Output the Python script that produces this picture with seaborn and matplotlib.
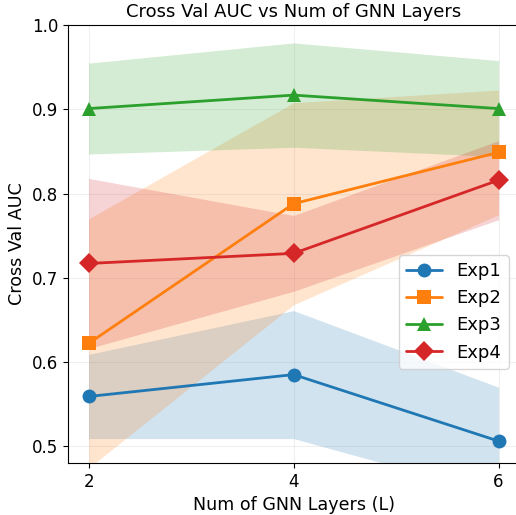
import matplotlib
matplotlib.use("Agg")
import matplotlib.pyplot as plt
import seaborn as sns
import numpy as np
import pandas as pd

# cross validation AUC, mean and std over folds
layers = [2, 4, 6]
experiments = ["Exp1", "Exp2", "Exp3", "Exp4"]
exp1_mean = [0.559, 0.585, 0.506]
exp1_std = [0.050, 0.076, 0.064]
exp2_mean = [0.622, 0.788, 0.849]
exp2_std = [0.148, 0.120, 0.074]
exp3_mean = [0.901, 0.917, 0.901]
exp3_std = [0.054, 0.062, 0.057]
exp4_mean = [0.717, 0.729, 0.816]
exp4_std = [0.101, 0.045, 0.047]

means = [exp1_mean, exp2_mean, exp3_mean, exp4_mean]
stds = [exp1_std, exp2_std, exp3_std, exp4_std]
markers = ["o", "s", "^", "D"]

sns.set_style("ticks", {"axes.edgecolor": "black", "text.color": "black",
                        "axes.labelcolor": "black", "xtick.color": "black",
                        "ytick.color": "black"})
plt.rcParams["font.family"] = ["DejaVu Sans"]
colors = sns.color_palette("tab10", 4)

fig = plt.figure(figsize=(5.16, 5.15), dpi=100)
ax = fig.add_axes([0.132, 0.101, 0.874, 0.850])

for name, m, s, mk, c in zip(experiments, means, stds, markers, colors):
    df = pd.DataFrame({"L": layers, "auc": m})
    sns.lineplot(data=df, x="L", y="auc", marker=mk, markersize=10,
                 markeredgewidth=0, linewidth=2, color=c, label=name, ax=ax)
    lo = np.array(m) - np.array(s)
    hi = np.array(m) + np.array(s)
    ax.fill_between(layers, lo, hi, color=c, alpha=0.2, linewidth=0)

ax.set_ylim(0.48, 1.0)
ax.set_xticks(layers)
ax.grid(True, alpha=0.3)
ax.tick_params(labelsize=12)
ax.set_xlabel("Num of GNN Layers (L)", fontsize=12.6)
ax.set_ylabel("Cross Val AUC", fontsize=12.6)
ax.set_title("Cross Val AUC vs Num of GNN Layers", fontsize=13)
ax.legend(loc="center right", bbox_to_anchor=(0.997, 0.345), fontsize=13)

fig.savefig("out.png", dpi=100)
